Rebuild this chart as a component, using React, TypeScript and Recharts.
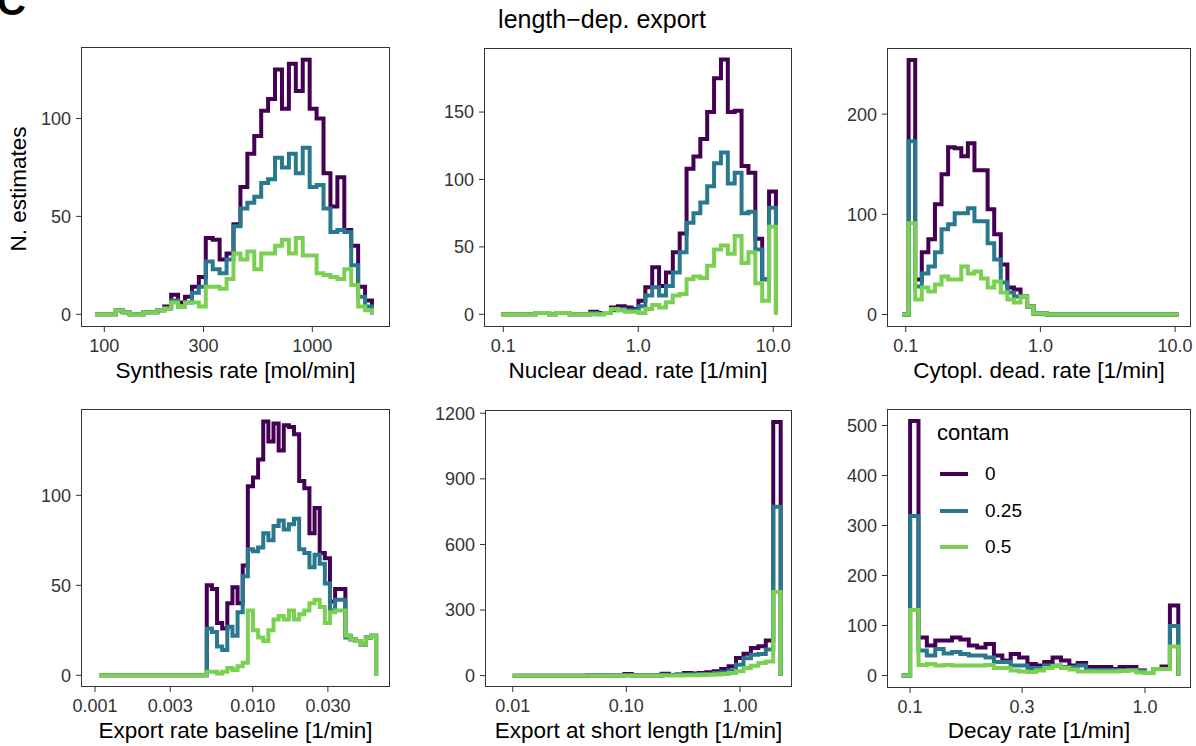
import React from 'react';
import { LineChart, Line, XAxis, YAxis } from 'recharts';

const FONT = '"Liberation Sans", Arial, Helvetica, sans-serif';
const contamLabels = ['0', '0.25', '0.5'];
const seriesKeys = ['c0', 'c25', 'c50'];
const colors = ['#440154', '#2A788E', '#7AD151'];

// Panel 1: synthesis rate
const synthRange = [90.2, 1936];
const synth0 = [0,0,0,2,1,0,0,1,1,2, 4,10,6,9,14,19,39,38,28,31, 46,65,82,91,104,110,125,105,128,114, 130,105,100,72,55,70,43,35,14,7];
const synth25 = [0,0,0,2,1,0,0,1,1,2, 3,7,4,6,11,14,27,23,21,28, 45,54,57,60,67,69,80,75,82,72, 85,65,66,54,42,43,42,25,9,4];
const synth50 = [0,0,0,2,1,0,0,1,1,2, 3,6,4,6,6,4,14,14,13,18, 31,28,32,23,31,31,35,38,31,39, 30,30,21,20,19,18,23,15,4,2];
const synthXTicks = [100, 300, 1000];
const synthXLabels = ['100', '300', '1000'];
const synthYTicks = [0, 50, 100];

// Panel 2: nuclear degradation rate
const nucRange = [0.0961, 10.47];
const nuc0 = [0,0,0,0,0,1,1,0,1,1, 0,0,0,2,1,1,5,6,5,4, 10,20,35,21,31,46,60,108,117,130, 150,175,189,150,151,110,105,56,26,91];
const nuc25 = [0,0,0,0,0,1,1,0,1,1, 0,0,0,1,0,1,3,4,3,3, 6,14,20,14,21,31,46,68,75,83, 95,112,120,97,105,75,76,48,26,79];
const nuc50 = [0,0,0,0,0,1,1,0,1,1, 0,0,0,0,0,1,4,3,2,2, 1,4,7,5,9,14,15,26,28,27, 36,48,51,45,58,38,46,23,10,65];
const nucXTicks = [0.1, 1, 10];
const nucXLabels = ['0.1', '1.0', '10.0'];
const nucYTicks = [0, 50, 100, 150];

// Panel 3: cytoplasmic degradation rate
const cytRange = [0.0939, 10.6];
const cyt0 = [0,254,35,62,75,110,140,167,166,158, 171,144,144,105,80,50,27,25,18,8, 1,1,0,0,0,0,0,0,0,0, 0,0,0,0,0,0,0,0,0,0, 0,0];
const cyt25 = [0,173,28,41,48,62,85,90,101,101, 106,93,93,71,55,32,22,18,18,8, 1,1,0,0,0,0,0,0,0,0, 0,0,0,0,0,0,0,0,0,0, 0,0];
const cyt50 = [0,91,15,27,23,30,38,35,35,48, 41,43,36,27,33,22,15,12,18,8, 1,1,0,0,0,0,0,0,0,0, 0,0,0,0,0,0,0,0,0,0, 0,0];
const cytXTicks = [0.1, 1, 10];
const cytXLabels = ['0.1', '1.0', '10.0'];
const cytYTicks = [0, 100, 200];

// Panel 4: export rate baseline
const expRange = [0.00106, 0.0607];
const exp0 = [0,0,0,0,0,0,0,0,0,0, 0,0,0,0,0,0,0,0,0,0, 0, 50,48,29,26,40,49,40,61,105,110, 120,141,130,140,125,139,138,134,108,104, 79,93,68,65,41,48,48,22,20,19, 17,21,22];
const exp25 = [0,0,0,0,0,0,0,0,0,0, 0,0,0,0,0,0,0,0,0,0, 0, 26,24,16,14,27,22,35,55,70,69, 71,79,75,83,86,81,84,87,70,68, 60,67,62,51,36,42,42,21,20,19, 17,21,22];
const exp50 = [0,0,0,0,0,0,0,0,0,0, 0,0,0,0,0,0,0,0,0,0, 0, 2,2,1,2,4,3,5,7,36,25, 21,19,25,31,33,31,36,31,34,36, 40,42,38,29,35,36,36,22,20,19, 17,21,22];
const expXTicks = [0.001, 0.003, 0.01, 0.03];
const expXLabels = ['0.001', '0.003', '0.010', '0.030'];
const expYTicks = [0, 50, 100];

// Panel 5: export at short length
const shortRange = [0.01, 2.28];
const short0 = [0,0,0,0,0,0,0,0,0,0, 1,1,2,2,1,8,2,2,2,2, 9,3,5,12,10,12,15,20,30,43, 81,100,126,134,161,1160];
const short25 = [0,0,0,0,0,0,0,0,0,0, 1,1,1,1,1,2,1,1,1,1, 4,3,4,5,6,8,8,12,15,23, 50,80,95,99,119,773];
const short50 = [0,0,0,0,0,0,0,0,0,0, 0,0,1,1,0,1,1,1,1,1, 1,1,1,2,2,3,4,5,8,12, 20,35,45,58,65,382];
const shortXTicks = [0.01, 0.1, 1];
const shortXLabels = ['0.01', '0.10', '1.00'];
const shortYTicks = [0, 300, 600, 900, 1200];

// Panel 6: decay rate
const decRange = [0.0922, 1.386];
const dec0 = [0,509,76,60,70,70,76,72,60,56, 63,40,30,43,36,23,20,27,36,30, 20,25,17,17,17,13,17,17,10,5, 13,18,140];
const dec25 = [0,319,50,40,53,44,47,43,40,40, 36,27,27,20,20,15,15,20,20,17, 17,20,11,11,11,11,11,11,10,5, 13,13,99];
const dec50 = [0,131,21,23,20,21,20,20,20,20, 21,15,15,10,8,7,10,15,19,15, 12,8,8,8,8,8,9,10,6,5, 13,13,58];
const decXTicks = [0.1, 0.3, 1];
const decXLabels = ['0.1', '0.3', '1.0'];
const decYTicks = [0, 100, 200, 300, 400, 500];

function buildRows(range: number[], a: number[], b: number[], c: number[]) {
  const n = a.length;
  const rows: any[] = [];
  for (let i = 0; i <= n; i++) {
    const x = range[0] * Math.pow(range[1] / range[0], i / n);
    rows.push({ x, c0: i < n ? a[i] : 0, c25: i < n ? b[i] : 0, c50: i < n ? c[i] : 0 });
  }
  return rows;
}

const YW = 80;
const XH = 44;
const MT = 16;
const MR = 24;

function LegendBox(props: any) {
  return (
    <div style={{ position: 'absolute', left: props.left, top: props.top, fontFamily: FONT, color: '#000', pointerEvents: 'none' }}>
      <div style={{ fontSize: 22, lineHeight: '26px', height: 26 }}>contam</div>
      <div style={{ height: 10 }} />
      {contamLabels.map((lab, i) => (
        <div key={lab} style={{ display: 'flex', alignItems: 'center', height: 36.5 }}>
          <svg width={34} height={8} style={{ display: 'block' }}>
            <line x1={3} y1={4} x2={31} y2={4} stroke={colors[i]} strokeWidth={4} />
          </svg>
          <span style={{ fontSize: 19, marginLeft: 14, lineHeight: '22px' }}>{lab}</span>
        </div>
      ))}
    </div>
  );
}

function Panel(props: any) {
  const { box, rows, xDomain, yDomain, xTicks, xLabels, yTicks } = props;
  const fmt = (v: number) => {
    const idx = xTicks.findIndex((t: number) => Math.abs(t - v) <= 1e-9 * Math.max(1, Math.abs(t)));
    return idx >= 0 ? xLabels[idx] : '';
  };
  const tickStyle = { fontSize: 18, fill: '#333333', fontFamily: FONT };
  return (
    <div style={{ position: 'absolute', left: box.l - YW, top: box.t - MT }}>
      <LineChart width={box.w + YW + MR} height={box.h + XH + MT} data={rows} margin={{ top: MT, right: MR, bottom: 0, left: 0 }}>
        <XAxis
          dataKey="x"
          type="number"
          scale="log"
          domain={xDomain}
          allowDataOverflow
          ticks={xTicks}
          interval={0}
          tickFormatter={fmt}
          height={XH}
          tickSize={5}
          tickMargin={7}
          axisLine={false}
          tickLine={{ stroke: '#333333' }}
          tick={tickStyle}
        />
        <YAxis
          type="number"
          domain={yDomain}
          allowDataOverflow
          ticks={yTicks}
          interval={0}
          width={YW}
          tickSize={5}
          tickMargin={5}
          axisLine={false}
          tickLine={{ stroke: '#333333' }}
          tick={tickStyle}
        />
        {seriesKeys.map((k, i) => (
          <Line
            key={k}
            type="stepAfter"
            dataKey={k}
            name={contamLabels[i]}
            stroke={colors[i]}
            strokeWidth={4}
            dot={false}
            activeDot={false}
            isAnimationActive={false}
          />
        ))}
      </LineChart>
      <div
        style={{
          position: 'absolute',
          left: YW,
          top: MT,
          width: box.w,
          height: box.h,
          border: '1px solid #333333',
          boxSizing: 'border-box',
          pointerEvents: 'none',
        }}
      />
    </div>
  );
}

const panels = [
  { box: { l: 81, t: 47, w: 309, h: 280 }, rows: buildRows(synthRange, synth0, synth25, synth50), xDomain: [77.27, 2363], yDomain: [-6.5, 136.5], xTicks: synthXTicks, xLabels: synthXLabels, yTicks: synthYTicks, title: 'Synthesis rate [mol/min]', tx: 235.5, ty: 371 },
  { box: { l: 484, t: 48, w: 308, h: 279 }, rows: buildRows(nucRange, nuc0, nuc25, nuc50), xDomain: [0.07194, 13.77], yDomain: [-9.4, 197.5], xTicks: nucXTicks, xLabels: nucXLabels, yTicks: nucYTicks, title: 'Nuclear dead. rate [1/min]', tx: 638, ty: 371 },
  { box: { l: 887, t: 48, w: 304, h: 279 }, rows: buildRows(cytRange, cyt0, cyt25, cyt50), xDomain: [0.07261, 13.12], yDomain: [-12.5, 266], xTicks: cytXTicks, xLabels: cytXLabels, yTicks: cytYTicks, title: 'Cytopl. dead. rate [1/min]', tx: 1039, ty: 371 },
  { box: { l: 81, t: 409, w: 309, h: 278 }, rows: buildRows(expRange, exp0, exp25, exp50), xDomain: [0.000815, 0.0743], yDomain: [-6.5, 148], xTicks: expXTicks, xLabels: expXLabels, yTicks: expYTicks, title: 'Export rate baseline [1/min]', tx: 235.5, ty: 731 },
  { box: { l: 485, t: 410, w: 307, h: 277 }, rows: buildRows(shortRange, short0, short25, short50), xDomain: [0.0057, 2.868], yDomain: [-52, 1215], xTicks: shortXTicks, xLabels: shortXLabels, yTicks: shortYTicks, title: 'Export at short length [1/min]', tx: 638.5, ty: 731 },
  { box: { l: 887, t: 409, w: 304, h: 279 }, rows: buildRows(decRange, dec0, dec25, dec50), xDomain: [0.0798, 1.57], yDomain: [-25, 533], xTicks: decXTicks, xLabels: decXLabels, yTicks: decYTicks, title: 'Decay rate [1/min]', tx: 1039, ty: 731 },
];

export default function App() {
  return (
    <div
      style={{
        position: 'absolute',
        left: 0,
        top: 0,
        width: 1196,
        height: 746,
        background: '#ffffff',
        overflow: 'hidden',
        fontFamily: FONT,
      }}
    >
      <div style={{ position: 'absolute', left: -3, top: -19, fontSize: 40, fontWeight: 'bold', lineHeight: '40px', color: '#000' }}>C</div>
      <div style={{ position: 'absolute', left: 402, width: 400, top: 4, textAlign: 'center', fontSize: 25, lineHeight: '30px', color: '#000' }}>
        length−dep. export
      </div>
      <div
        style={{
          position: 'absolute',
          left: 19 - 100,
          top: 189 - 14,
          width: 200,
          height: 28,
          lineHeight: '28px',
          textAlign: 'center',
          fontSize: 22.5,
          color: '#000',
          transform: 'rotate(-90deg)',
        }}
      >
        N. estimates
      </div>
      {panels.map((p, i) => (
        <React.Fragment key={i}>
          <Panel {...p} />
          <div
            style={{
              position: 'absolute',
              left: p.tx - 200,
              width: 400,
              top: p.ty - 14,
              height: 28,
              lineHeight: '28px',
              textAlign: 'center',
              fontSize: 22.5,
              color: '#000',
            }}
          >
            {p.title}
          </div>
        </React.Fragment>
      ))}
      <LegendBox left={937} top={420} />
    </div>
  );
}
